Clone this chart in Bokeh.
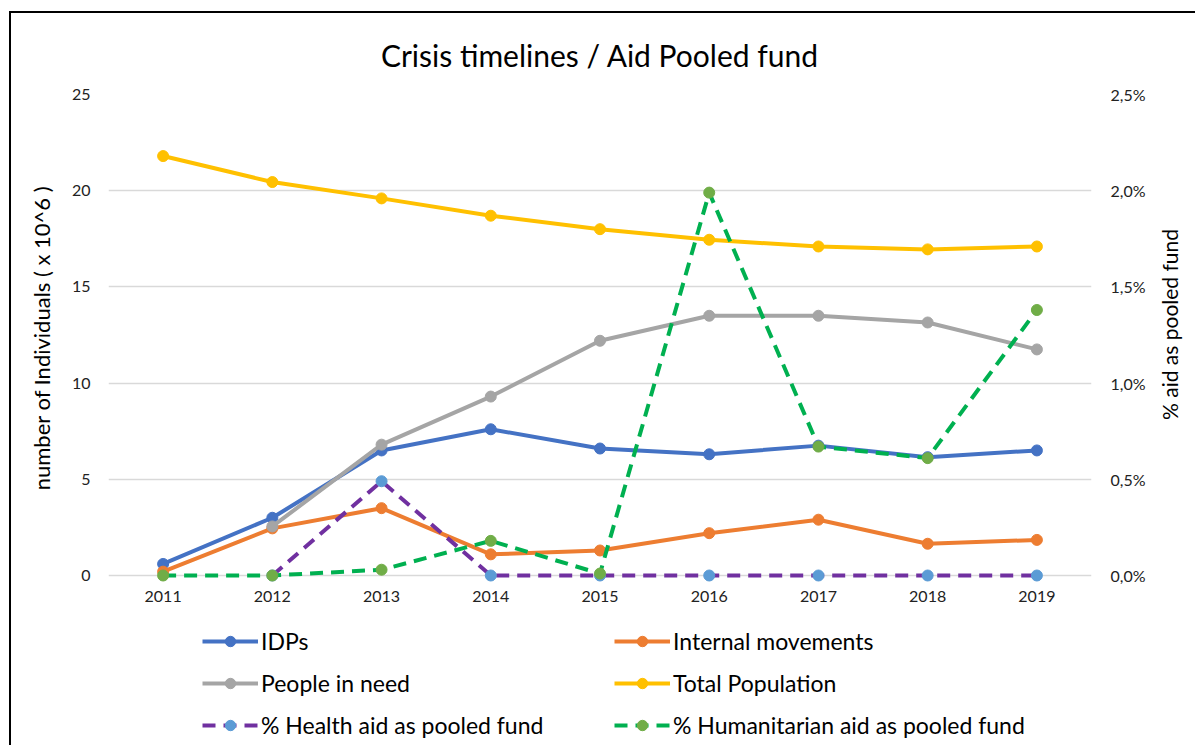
import math
import numpy as np
from bokeh.plotting import figure
from bokeh.models import (Range1d, LinearAxis, Legend, LegendItem, CustomJSTickFormatter,
                          FixedTicker, ColumnDataSource, Title)
from bokeh.embed import file_html
from bokeh.resources import INLINE

years = [2011, 2012, 2013, 2014, 2015, 2016, 2017, 2018, 2019]
idps = [0.6, 3.0, 6.5, 7.6, 6.6, 6.3, 6.75, 6.15, 6.5]
internal = [0.2, 2.45, 3.5, 1.1, 1.3, 2.2, 2.9, 1.65, 1.85]
in_need = [np.nan, 2.55, 6.8, 9.3, 12.2, 13.5, 13.5, 13.15, 11.75]
total_pop = [21.8, 20.45, 19.6, 18.7, 18.0, 17.45, 17.1, 16.95, 17.1]
health_pct = [np.nan, 0.0, 0.49, 0.0, 0.0, 0.0, 0.0, 0.0, 0.0]
human_pct = [0.0, 0.0, 0.03, 0.18, 0.01, 1.99, 0.67, 0.61, 1.38]
left_ticks = [0, 5, 10, 15, 20, 25]
right_ticks = [0, 0.5, 1.0, 1.5, 2.0, 2.5]

FONT = "Lato"

# frame extends below the value area so the legend can sit inside it
FRAME_H = 651
PLOT_H = 481  # pixels used by the 0..25 value area
span = 25 * FRAME_H / PLOT_H
ymin = 25 - span

p = figure(frame_width=983, frame_height=FRAME_H, output_backend="svg", toolbar_location=None,
           x_range=Range1d(2010.5, 2019.5), y_range=Range1d(ymin, 25),
           min_border_left=96, min_border_right=102, min_border_top=81, min_border_bottom=0)
p.extra_y_ranges = {"pct": Range1d(ymin / 10, 2.5)}
p.styles = {"border-left": "2px solid #000", "border-top": "2px solid #000",
            "margin-left": "9px", "margin-top": "11px"}

p.title.text = "Crisis timelines / Aid Pooled fund"
p.title.align = "center"
p.title.text_font = FONT
p.title.text_font_size = "30px"
p.title.text_font_style = "normal"
p.title.text_color = "#000000"
p.title.offset = 0
p.title.standoff = 43

p.outline_line_color = None
p.xgrid.grid_line_color = None
p.ygrid.grid_line_color = "#d9d9d9"
p.ygrid.grid_line_width = 1.5
p.ygrid.ticker = FixedTicker(ticks=left_ticks)

for ax in [p.xaxis[0], p.yaxis[0]]:
    ax.axis_line_color = None
    ax.major_tick_line_color = None
    ax.minor_tick_line_color = None
    ax.major_label_text_font = FONT
    ax.major_label_text_color = "#222222"
    ax.major_label_text_font_size = "16px"

p.xaxis.ticker = FixedTicker(ticks=years)
p.xaxis.major_label_standoff = 9
p.xaxis.fixed_location = 0
p.yaxis.ticker = FixedTicker(ticks=left_ticks)
p.yaxis.major_label_standoff = 12

# left axis title, placed alongside the 0..25 value area
ytitle = Title(text="number of Individuals ( x 10^6 )", align="right", offset=91,
               standoff=28, text_font=FONT, text_font_size="22px",
               text_font_style="normal", text_color="#000000")
p.add_layout(ytitle, "left")

ax2 = LinearAxis(y_range_name="pct", ticker=FixedTicker(ticks=right_ticks),
                 formatter=CustomJSTickFormatter(code="return tick.toFixed(1).replace('.', ',') + '%';"))
ax2.axis_line_color = None
ax2.major_tick_line_color = None
ax2.minor_tick_line_color = None
ax2.major_label_text_font = FONT
ax2.major_label_text_color = "#222222"
ax2.major_label_text_font_size = "16px"
ax2.major_label_standoff = 13
ax2.axis_label = "% aid as pooled fund"
ax2.axis_label_text_font = FONT
ax2.axis_label_text_font_size = "21px"
ax2.axis_label_text_font_style = "normal"
ax2.axis_label_text_color = "#000000"
ax2.axis_label_standoff = 21
if "axis_label_orientation" in ax2.properties():
    ax2.axis_label_orientation = math.pi / 2
p.add_layout(ax2, "right")

series = [
    ("IDPs", idps, "#4472C4", "#4472C4", "solid", "default"),
    ("Internal movements", internal, "#ED7D31", "#ED7D31", "solid", "default"),
    ("People in need", in_need, "#A5A5A5", "#A5A5A5", "solid", "default"),
    ("Total Population", total_pop, "#FFC000", "#FFC000", "solid", "default"),
    ("% Health aid as pooled fund", health_pct, "#7030A0", "#5B9BD5", "13 8", "pct"),
    ("% Humanitarian aid as pooled fund", human_pct, "#00B050", "#70AD47", "13 8", "pct"),
]

items = []
for name, vals, lc, mc, dash, rng in series:
    src = ColumnDataSource(dict(x=years, y=vals))
    l = p.line("x", "y", source=src, line_color=lc, line_width=4, line_dash=dash,
               y_range_name=rng, line_join="round", line_cap="butt")
    s = p.scatter("x", "y", source=src, size=11, fill_color=mc, line_color=mc,
                  y_range_name=rng)
    items.append(LegendItem(label=name, renderers=[l, s]))

# legend fills column by column: left column IDPs / People / Health
order = [0, 2, 4, 1, 3, 5]
legend = Legend(items=[items[i] for i in order], ncols=2, location=(94, 6),
                glyph_width=56, glyph_height=26, label_height=26, label_standoff=3,
                spacing=14, label_width=339, padding=0, margin=0,
                border_line_color=None, background_fill_alpha=0,
                label_text_font=FONT, label_text_font_size="23px",
                label_text_color="#000000")
p.add_layout(legend, "center")

open("out.html", "w").write(file_html(p, INLINE))
